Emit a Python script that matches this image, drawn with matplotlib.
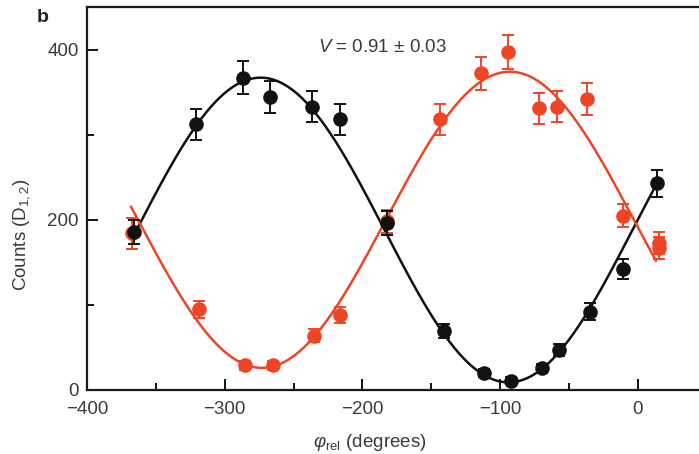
import matplotlib

matplotlib.use("Agg")

import matplotlib.pyplot as plt
import numpy as np
from matplotlib.ticker import MultipleLocator

# detector D1 (black) and D2 (red) counts vs relative phase
black_phase = [-366, -321, -287, -267, -237, -216, -182, -141, -112, -92, -70, -57, -35, -11, 14]
black_counts = [186, 312, 367, 344, 333, 318, 196, 69, 20, 11, 26, 47, 92, 142, 243]
black_err = [14, 18, 19, 19, 18, 18, 14, 8, 5, 4, 5, 7, 10, 12, 16]

red_phase = [-367, -319, -285, -265, -235, -216, -182, -144, -114, -94, -72, -59, -37, -11, 15, 15]
red_counts = [184, 95, 29, 29, 64, 88, 198, 318, 372, 397, 331, 333, 342, 205, 173, 167]
red_err = [18, 10, 5, 5, 8, 9, 14, 18, 19, 20, 18, 18, 19, 14, 13, 13]

# cosine fits: offset, amplitude, phase of maximum, fitted range
black_fit = (188, 179, -274, -365, 14)
red_fit = (200, 174, -93, -368, 13)

visibility_text = "$\\it{V}$ = 0.91 ± 0.03"

RED = "#ee4527"
BLACK = "#111111"
TEXT = "#3a3a3a"

plt.rcParams["font.family"] = ["Liberation Sans", "DejaVu Sans"]
plt.rcParams["mathtext.fontset"] = "custom"
plt.rcParams["mathtext.rm"] = "Liberation Sans"
plt.rcParams["mathtext.it"] = "Liberation Sans:italic"

fig = plt.figure(figsize=(6.99, 4.54), dpi=100)
ax = fig.add_axes([87 / 699, 64 / 454, 612 / 699, 383 / 454])


def fit_curve(params):
    offset, amp, peak, lo, hi = params
    xs = np.linspace(lo, hi, 300)
    return xs, offset + amp * np.cos(np.radians(xs - peak))


for params, color in [(black_fit, BLACK), (red_fit, RED)]:
    xs, ys = fit_curve(params)
    ax.plot(xs, ys, color=color, linewidth=1.8, zorder=2)

ax.errorbar(red_phase, red_counts, yerr=red_err, fmt="o", color=RED, markersize=9.5,
            elinewidth=1.4, capsize=4.5, capthick=1.4, zorder=3)
ax.errorbar(black_phase, black_counts, yerr=black_err, fmt="o", color=BLACK, markersize=9.5,
            elinewidth=1.4, capsize=4.5, capthick=1.4, zorder=4)

ax.set_xlim(-400, 44.3)
ax.set_ylim(0, 450)
ax.xaxis.set_major_locator(MultipleLocator(100))
ax.xaxis.set_minor_locator(MultipleLocator(50))
ax.set_yticks([0, 200, 400])
ax.yaxis.set_minor_locator(MultipleLocator(100))
ax.tick_params(which="major", direction="in", length=8, width=1.3, labelsize=13.5,
               labelcolor=TEXT, pad=6)
ax.tick_params(axis="x", which="major", pad=8)
ax.tick_params(which="minor", direction="in", length=5, width=1.3)
ax.tick_params(axis="x", which="both", top=False)
ax.tick_params(axis="y", which="both", right=False)

for side in ["left", "bottom", "top"]:
    ax.spines[side].set_linewidth(1.6)
    ax.spines[side].set_color("#1a1a22")
ax.spines["right"].set_visible(False)

ax.set_xlabel("$\\varphi_{\\rm rel}$ (degrees)", fontsize=13.5, color=TEXT)
ax.xaxis.set_label_coords(0.462, -0.11)
ax.set_ylabel("Counts (D$_{1,2}$)", fontsize=13.5, color=TEXT)
ax.yaxis.set_label_coords(-0.09, 0.405)

ax.text(-232, 403, visibility_text, fontsize=13.5, color=TEXT, ha="left", va="center")
fig.text(37 / 699, 1 - 18 / 454, "b", fontsize=14, fontweight="bold", color="#222222",
         ha="left", va="center")

fig.savefig("out.png", dpi=100)
